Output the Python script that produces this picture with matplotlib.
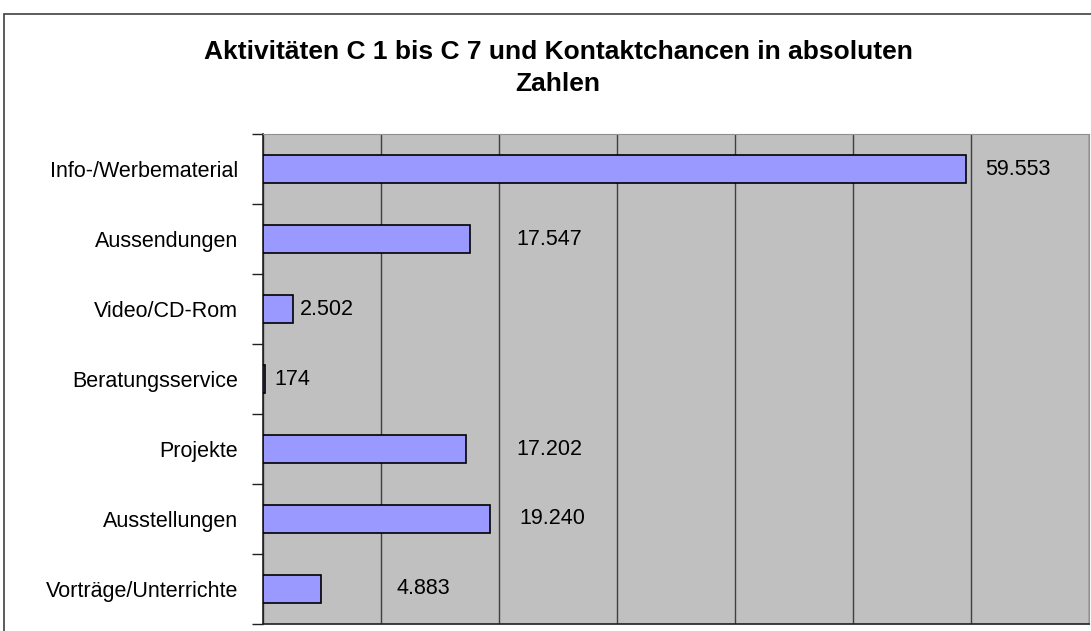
import matplotlib.pyplot as plt
import matplotlib
from matplotlib.patches import Rectangle
import numpy as np

matplotlib.rcParams['font.family'] = ['Liberation Sans', 'DejaVu Sans']

categories = ['Info-/Werbematerial', 'Aussendungen', 'Video/CD-Rom', 'Beratungsservice',
              'Projekte', 'Ausstellungen', 'Vorträge/Unterrichte']
values = [59553, 17547, 2502, 174, 17202, 19240, 4883]
value_labels = ['59.553', '17.547', '2.502', '174', '17.202', '19.240', '4.883']
# where Excel put the data labels (x in data units)
label_x = [61200, 21500, 3150, 1000, 21500, 21700, 11300]

fig = plt.figure(figsize=(10.91, 6.31), dpi=100)
ax = fig.add_axes([263/1091, 7/631, 826/1091, 490/631])

# chart frame
fig.patches.append(Rectangle((4/1091, -0.1), 1.2, (631-14)/631 + 0.1, transform=fig.transFigure,
                             fill=False, edgecolor='#404040', linewidth=1.2))

ax.set_facecolor('#c0c0c0')
y = np.arange(len(categories))
ax.barh(y, values, height=0.4, color='#9999ff', edgecolor='black', linewidth=1.2, zorder=3)
for yi, lx, lab in zip(y, label_x, value_labels):
	ax.text(lx, yi, lab, va='center', ha='left', fontsize=15.5, zorder=4)

ax.set_xlim(0, 70000)
ax.set_ylim(len(categories) - 0.5, -0.5)
ax.set_xticks(np.arange(0, 70001, 10000))
ax.tick_params(axis='x', length=0, labelbottom=False)
ax.grid(axis='x', color='#404040', linewidth=1, zorder=1)

ax.set_yticks(y)
ax.set_yticklabels(categories, fontsize=15.5)
ax.tick_params(axis='y', which='major', length=0, pad=18)
ax.set_yticks(np.arange(-0.5, len(categories)), minor=True)
ax.tick_params(axis='y', which='minor', length=8, width=1, color='#202020', direction='out')

for s in ['top', 'right']:
	ax.spines[s].set_color('#909090')
ax.spines['left'].set_color('#202020')
ax.spines['bottom'].set_color('#202020')
ax.spines['left'].set_linewidth(1.2)
ax.spines['bottom'].set_linewidth(1.2)

fig.text(558/1091, 1 - 68/631, 'Aktivitäten C 1 bis C 7 und Kontaktchancen in absoluten\nZahlen',
	ha='center', va='center', fontsize=19, weight='bold', linespacing=1.4)

plt.savefig('out.png', dpi=100)
